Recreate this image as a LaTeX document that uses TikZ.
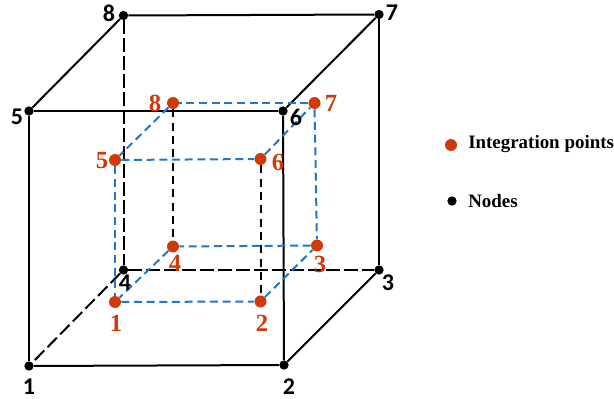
\documentclass[tikz,border=0pt]{standalone}
\usepackage{fontspec}
\setmainfont{Liberation Serif}
\setsansfont{Carlito}
\usetikzlibrary{backgrounds}
\definecolor{pointred}{HTML}{CF3A08}
\definecolor{gaussblue}{HTML}{1F78C8}

\begin{document}
\begin{tikzpicture}[
  x=0.75pt, y=-0.75pt,
  node/.style={circle, fill=black, inner sep=0pt, minimum size=7pt},
  point/.style={circle, fill=pointred, inner sep=0pt, minimum size=9pt},
  nodelabel/.style={font=\sffamily\bfseries\fontsize{18}{18}\selectfont, text=black, inner sep=0pt},
  pointlabel/.style={font=\rmfamily\bfseries\fontsize{18.5}{18.5}\selectfont, text=pointred, inner sep=0pt},
  legend/.style={font=\rmfamily\bfseries\fontsize{14.2}{14.2}\selectfont, text=black, inner sep=0pt, anchor=west},
  edge/.style={draw=black, line width=1.5pt},
  hidden/.style={draw=black, line width=1.5pt, dash pattern=on 10pt off 3.5pt},
  inner/.style={draw=black, line width=1.5pt, dash pattern=on 6pt off 4pt},
  gauss/.style={draw=gaussblue, line width=1.5pt, dash pattern=on 6pt off 3.5pt}
]
\useasboundingbox (0,0) rectangle (614,399);

% element nodes
\node[node] (n1) at (29,366) {};
\node[node] (n2) at (284,365) {};
\node[node] (n3) at (379,270) {};
\node[node] (n4) at (123.5,270) {};
\node[node] (n5) at (29,111) {};
\node[node] (n6) at (283,111) {};
\node[node] (n7) at (379,14.5) {};
\node[node] (n8) at (123.5,15.5) {};

\node[nodelabel] (l1) at (29,387) {1};
\node[nodelabel] (l2) at (289,387) {2};
\node[nodelabel] (l3) at (388,283) {3};
\node[nodelabel] (l4) at (125,283) {4};
\node[nodelabel] (l5) at (17,117) {5};
\node[nodelabel] (l6) at (296,117) {6};
\node[nodelabel] (l7) at (392,13) {7};
\node[nodelabel] (l8) at (109,13) {8};

% integration points
\node[point] (p1) at (115,302) {};
\node[point] (p2) at (260.5,301.5) {};
\node[point] (p3) at (317,245.5) {};
\node[point] (p4) at (173,246.5) {};
\node[point] (p5) at (115,160) {};
\node[point] (p6) at (260.5,159) {};
\node[point] (p7) at (314.5,103) {};
\node[point] (p8) at (173,103) {};

\node[pointlabel] (q1) at (116,323) {1};
\node[pointlabel] (q2) at (262,323) {2};
\node[pointlabel] (q3) at (320,264) {3};
\node[pointlabel] (q4) at (175,263) {4};
\node[pointlabel] (q5) at (102,161) {5};
\node[pointlabel] (q6) at (278,162) {6};
\node[pointlabel] (q7) at (331,103) {7};
\node[pointlabel] (q8) at (155,103) {8};

% legend
\node[point] (keypoint) at (451,145) {};
\node[node] (keynode) at (452,201) {};
\node[legend] (keypointtext) at (468,144) {Integration points};
\node[legend] (keynodetext) at (468,201) {Nodes};

\begin{scope}[on background layer]
  \draw[edge] (n1) -- (n2);
  \draw[edge] (n2) -- (n6);
  \draw[edge] (n6) -- (n5);
  \draw[edge] (n5) -- (n1);
  \draw[edge] (n5) -- (n8);
  \draw[edge] (n8) -- (n7);
  \draw[edge] (n7) -- (n6);
  \draw[edge] (n7) -- (n3);
  \draw[edge] (n3) -- (n2);
  \draw[hidden] (n8) -- (n4);
  \draw[hidden] (n4) -- (n3);
  \draw[hidden] (n4) -- (n1);

  \draw[inner] (p8) -- (p4);
  \draw[inner] (p6) -- (p2);
  \draw[gauss] (p1) -- (p2);
  \draw[gauss] (p2) -- (p3);
  \draw[gauss] (p3) -- (p4);
  \draw[gauss] (p4) -- (p1);
  \draw[gauss] (p5) -- (p6);
  \draw[gauss] (p6) -- (p7);
  \draw[gauss] (p7) -- (p8);
  \draw[gauss] (p8) -- (p5);
  \draw[gauss] (p5) -- (p1);
  \draw[gauss] (p7) -- (p3);
\end{scope}

\end{tikzpicture}
\end{document}
